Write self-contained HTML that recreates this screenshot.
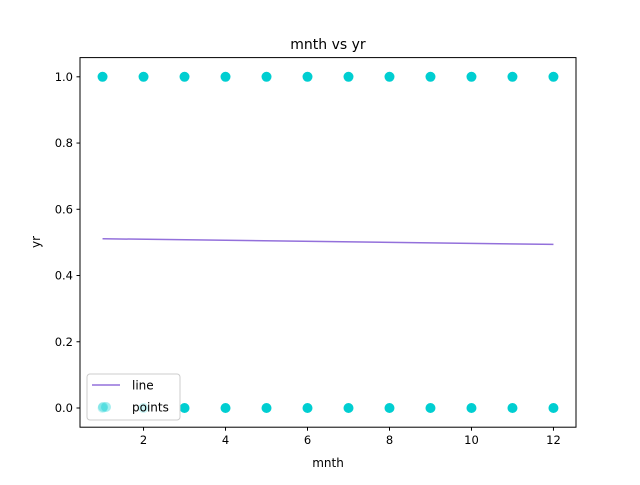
<!DOCTYPE html>
<html><head><meta charset="utf-8"><style>
body{margin:0;background:#fff}
svg text{font-family:"DejaVu Sans","Liberation Sans",sans-serif;fill:#000}
</style></head><body>
<svg id="chart" width="640" height="480" xmlns="http://www.w3.org/2000/svg">
<rect width="640" height="480" fill="#fff"/>
<text x="328" y="49" font-size="14" text-anchor="middle">mnth vs yr</text>
<g id="points"></g>
<g id="line"></g>
<rect x="80" y="57.6" width="496" height="369.6" fill="none" stroke="#000" stroke-width="1"/>
<g id="xt"></g>
<g id="yt"></g>
<text x="328" y="467" font-size="12" text-anchor="middle">mnth</text>
<text x="0" y="0" font-size="12" text-anchor="middle" transform="translate(40,242) rotate(-90)">yr</text>
<g>
<rect x="87" y="374" width="93" height="46" rx="3" fill="#fff" fill-opacity="0.8" stroke="#ccc"/>
<line x1="92" y1="385" x2="120" y2="385" stroke="#9370DB" stroke-width="1.5"/>
<text x="132" y="389.5" font-size="12">line</text>
<circle cx="103" cy="407" r="5" fill="#00CED1" fill-opacity="0.35"/>
<circle cx="106" cy="407" r="5" fill="#00CED1" fill-opacity="0.35"/>
<text x="132" y="411.5" font-size="12">points</text>
</g>
</svg>
<script>
const months=[1,2,3,4,5,6,7,8,9,10,11,12];
const pointYs=[0,1];
const lineX=[1,12];
const lineY=[0.511,0.494];
const xTicks=[2,4,6,8,10,12];
const yTicks=[0.0,0.2,0.4,0.6,0.8,1.0];
const NS="http://www.w3.org/2000/svg";
const L=80,R=576,T=57.6,B=427.2;
const xmin=0.45,xmax=12.55,ymin=-0.058,ymax=1.058;
const sx=v=>L+(v-xmin)/(xmax-xmin)*(R-L);
const sy=v=>B-(v-ymin)/(ymax-ymin)*(B-T);
function mk(t,a){const e=document.createElementNS(NS,t);for(const k in a)e.setAttribute(k,a[k]);return e;}
const pg=document.getElementById('points');
months.forEach(m=>pointYs.forEach(y=>{
  const c=mk('circle',{cx:sx(m),cy:sy(y),r:5,fill:'#00CED1'});
  
  
  pg.appendChild(c);
}));
const lg=document.getElementById('line');
const pl=mk('polyline',{points:lineX.map((x,i)=>sx(x)+','+sy(lineY[i])).join(' '),fill:'none',stroke:'#9370DB','stroke-width':1.5});


lg.appendChild(pl);
const xg=document.getElementById('xt');
xTicks.forEach(v=>{
  const l=mk('line',{x1:sx(v),x2:sx(v),y1:B,y2:B+3.5,stroke:'#000'});
  
  
  xg.appendChild(l);
  const t=mk('text',{x:sx(v),y:B+17,'font-size':11.5,'text-anchor':'middle'});
  t.textContent=v;
  
  
  xg.appendChild(t);
});
const yg=document.getElementById('yt');
yTicks.forEach(v=>{
  const l=mk('line',{x1:L-3.5,x2:L,y1:sy(v),y2:sy(v),stroke:'#000'});
  
  
  yg.appendChild(l);
  const t=mk('text',{x:L-7,y:sy(v)+4,'font-size':11.5,'text-anchor':'end'});
  t.textContent=v.toFixed(1);
  
  
  yg.appendChild(t);
});
</script>
</body></html>
